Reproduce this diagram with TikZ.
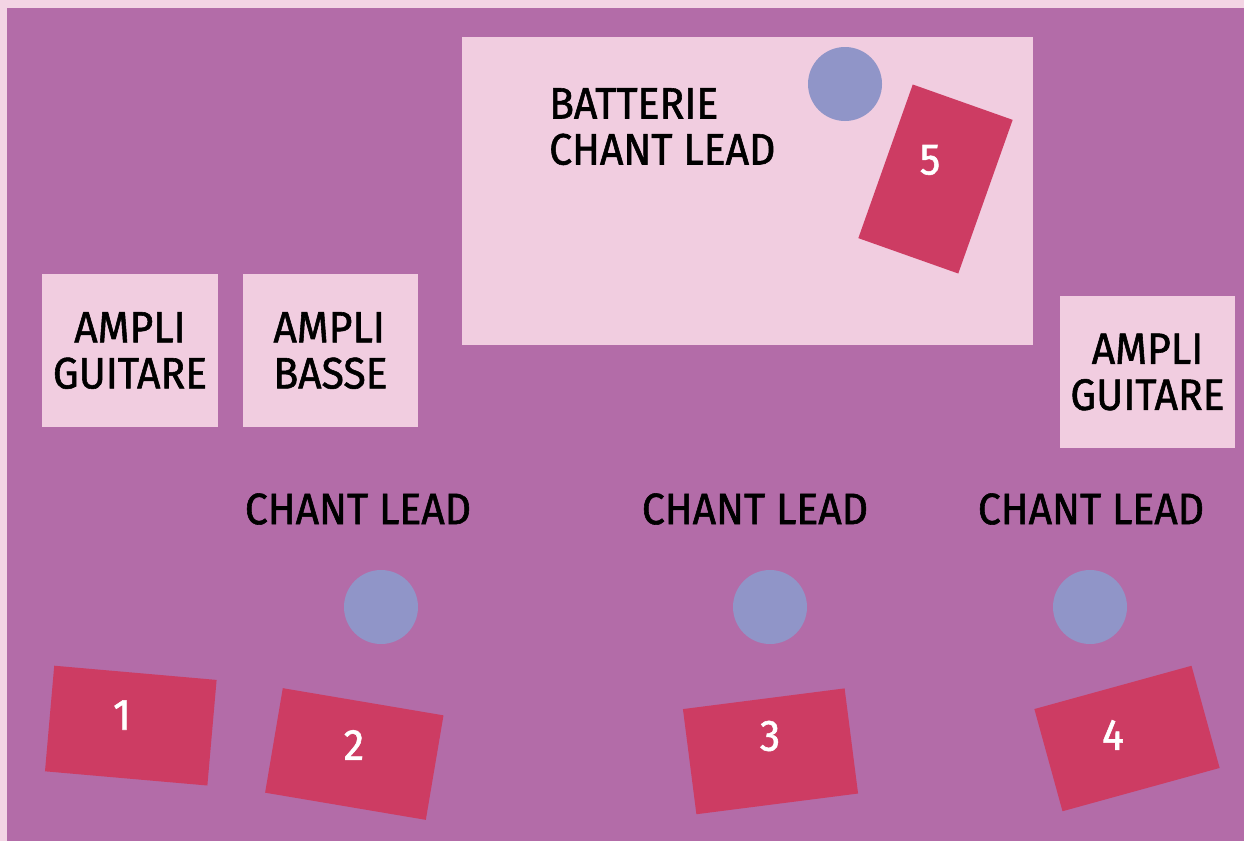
\documentclass[tikz,border=0pt]{standalone}
\usepackage{fontspec}
\setmainfont{Fira Sans}[FakeStretch=0.93,FakeBold=1.3]
\definecolor{stagebg}{HTML}{B36CA8}
\definecolor{edgepink}{HTML}{F3D4E4}
\definecolor{boxpink}{HTML}{F1CDE0}
\definecolor{micblue}{HTML}{9095C8}
\definecolor{wedgered}{HTML}{CD3C63}
\newcommand\lblf{\fontsize{44}{46}\selectfont}
\newcommand\numf{\fontsize{44}{44}\selectfont}
\tikzset{
  pinkbox/.style={fill=boxpink, draw=none, inner sep=0pt, text=black, font=\lblf},
  micdot/.style={circle, fill=micblue, minimum size=74pt, inner sep=0pt},
  wedgebox/.style={fill=wedgered, minimum width=163pt, minimum height=106pt, inner sep=0pt},
  numtxt/.style={text=white, font=\numf, inner sep=0pt},
  lbltxt/.style={text=black, font=\lblf, inner sep=0pt},
}
\begin{document}
\begin{tikzpicture}[x=1pt,y=-1pt]
\fill[edgepink] (0,0) rectangle (1244,841);
\fill[stagebg] (7,8) rectangle (1244,841);
\useasboundingbox (0,0) rectangle (1244,841);

% drum riser
\node[pinkbox, minimum width=571pt, minimum height=308pt] (drums) at (747.5,191) {};
\node[lbltxt, align=left, anchor=north west] (drumtxt) at (549,88) {BATTERIE\\CHANT LEAD};
\node[micdot] (mic5) at (845,84) {};
\node[wedgebox, minimum width=106pt, minimum height=163pt, rotate=-19.5] (w5) at (935.5,179) {};
\node[numtxt] (n5) at (930,160) {5};

% amps
\node[pinkbox, minimum width=176pt, minimum height=153pt, align=center] (ampg1) at (130,350.5) {AMPLI\\GUITARE};
\node[pinkbox, minimum width=175pt, minimum height=153pt, align=left] (ampb) at (330.5,350.5) {AMPLI\\BASSE};
\node[pinkbox, minimum width=175pt, minimum height=152pt, align=center] (ampg2) at (1147.5,372) {AMPLI\\GUITARE};

% front vocals
\node[lbltxt] (cl1) at (358,509) {CHANT LEAD};
\node[lbltxt] (cl2) at (755,509) {CHANT LEAD};
\node[lbltxt] (cl3) at (1091,509) {CHANT LEAD};
\node[micdot] (mic1) at (381,607) {};
\node[micdot] (mic2) at (770,607) {};
\node[micdot] (mic3) at (1090,607) {};

% wedges
\node[wedgebox, rotate=-5] (w1) at (130.8,725.6) {};
\node[wedgebox, rotate=-9.6] (w2) at (354.3,754) {};
\node[wedgebox, rotate=7.3] (w3) at (770.5,751.3) {};
\node[wedgebox, rotate=15.4] (w4) at (1127,738.5) {};
\node[numtxt] (n1) at (122,715) {1};
\node[numtxt] (n2) at (354,745) {2};
\node[numtxt] (n3) at (770,736) {3};
\node[numtxt] (n4) at (1113,735) {4};
\end{tikzpicture}
\end{document}
